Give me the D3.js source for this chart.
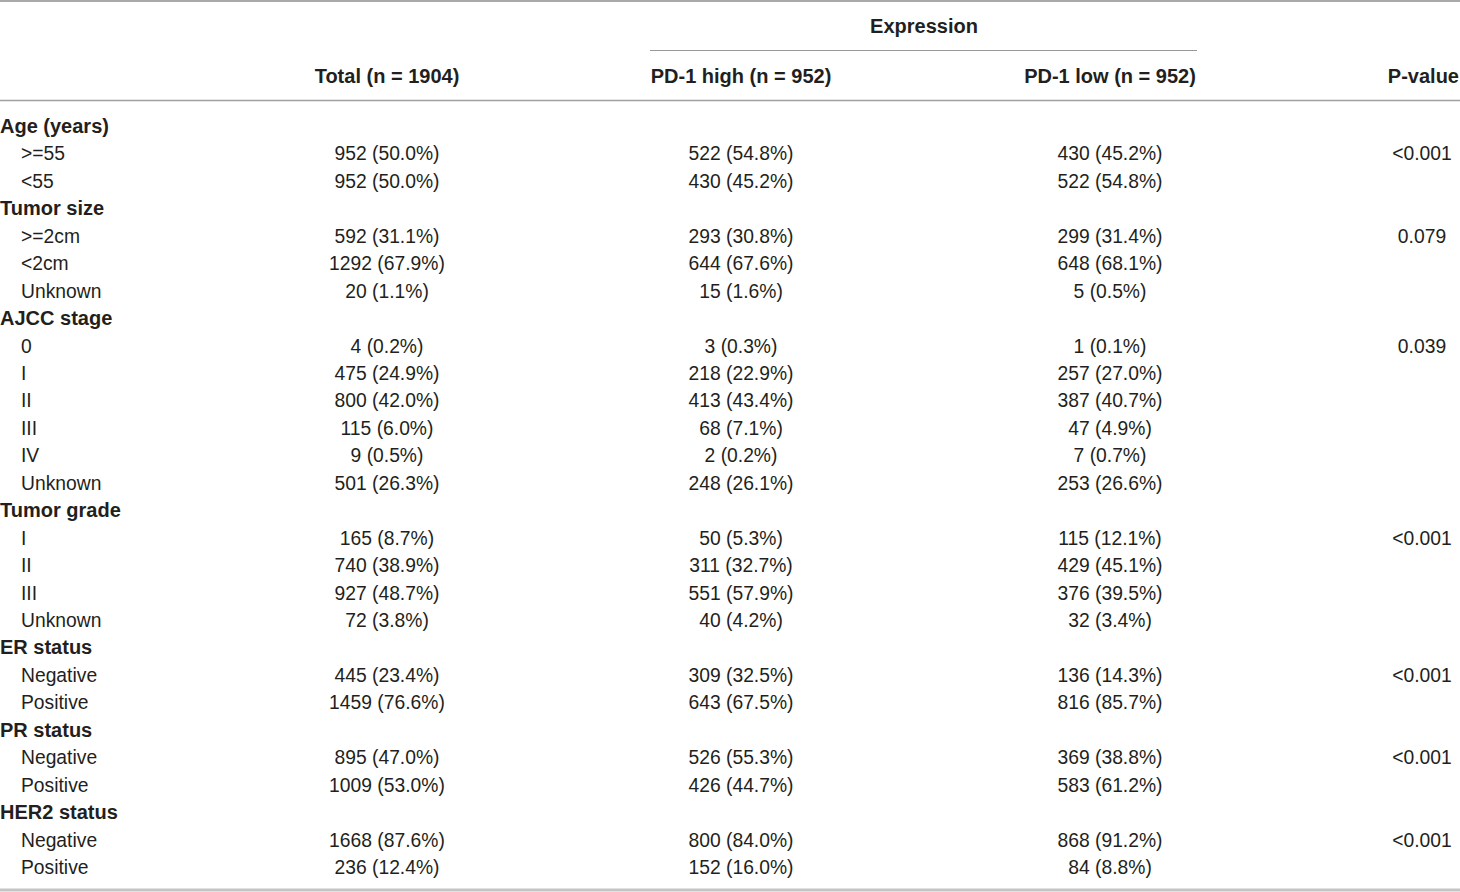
<!DOCTYPE html>
<html>
<head>
<meta charset="utf-8">
<script src="https://cdn.jsdelivr.net/npm/d3@7"></script>
<style>
  html, body { margin: 0; padding: 0; background: #fff; }
  svg { display: block; }
  text { font-family: "Liberation Sans", Arial, Helvetica, sans-serif; fill: #231f20; }
</style>
</head>
<body>
<svg id="chart" width="1460" height="892"></svg>
<script>
// ---- Data ----
const columnHeaders = ["Total (n = 1904)", "PD-1 high (n = 952)", "PD-1 low (n = 952)", "P-value"];
const spanHeader = "Expression";

const rowLabels = [
  "Age (years)", ">=55", "<55",
  "Tumor size", ">=2cm", "<2cm", "Unknown",
  "AJCC stage", "0", "I", "II", "III", "IV", "Unknown",
  "Tumor grade", "I", "II", "III", "Unknown",
  "ER status", "Negative", "Positive",
  "PR status", "Negative", "Positive",
  "HER2 status", "Negative", "Positive"
];
const isCategory = [
  1, 0, 0,
  1, 0, 0, 0,
  1, 0, 0, 0, 0, 0, 0,
  1, 0, 0, 0, 0,
  1, 0, 0,
  1, 0, 0,
  1, 0, 0
];
const totalVals = [
  "", "952 (50.0%)", "952 (50.0%)",
  "", "592 (31.1%)", "1292 (67.9%)", "20 (1.1%)",
  "", "4 (0.2%)", "475 (24.9%)", "800 (42.0%)", "115 (6.0%)", "9 (0.5%)", "501 (26.3%)",
  "", "165 (8.7%)", "740 (38.9%)", "927 (48.7%)", "72 (3.8%)",
  "", "445 (23.4%)", "1459 (76.6%)",
  "", "895 (47.0%)", "1009 (53.0%)",
  "", "1668 (87.6%)", "236 (12.4%)"
];
const highVals = [
  "", "522 (54.8%)", "430 (45.2%)",
  "", "293 (30.8%)", "644 (67.6%)", "15 (1.6%)",
  "", "3 (0.3%)", "218 (22.9%)", "413 (43.4%)", "68 (7.1%)", "2 (0.2%)", "248 (26.1%)",
  "", "50 (5.3%)", "311 (32.7%)", "551 (57.9%)", "40 (4.2%)",
  "", "309 (32.5%)", "643 (67.5%)",
  "", "526 (55.3%)", "426 (44.7%)",
  "", "800 (84.0%)", "152 (16.0%)"
];
const lowVals = [
  "", "430 (45.2%)", "522 (54.8%)",
  "", "299 (31.4%)", "648 (68.1%)", "5 (0.5%)",
  "", "1 (0.1%)", "257 (27.0%)", "387 (40.7%)", "47 (4.9%)", "7 (0.7%)", "253 (26.6%)",
  "", "115 (12.1%)", "429 (45.1%)", "376 (39.5%)", "32 (3.4%)",
  "", "136 (14.3%)", "816 (85.7%)",
  "", "369 (38.8%)", "583 (61.2%)",
  "", "868 (91.2%)", "84 (8.8%)"
];
const pVals = [
  "", "<0.001", "",
  "", "0.079", "", "",
  "", "0.039", "", "", "", "", "",
  "", "<0.001", "", "", "",
  "", "<0.001", "",
  "", "<0.001", "",
  "", "<0.001", ""
];

// ---- Layout ----
const svg = d3.select("#chart");
const W = 1460, H = 892;
const fontSize = 19.3;
const boldSize = 20;

const rowIdx = d3.range(rowLabels.length);
const y = d3.scaleLinear().domain([0, rowLabels.length - 1]).range([133, 874]);

const colCenters = [387, 741, 1110, 1422];

// rules
svg.append("line").attr("x1", 0).attr("x2", W).attr("y1", 1).attr("y2", 1)
  .attr("stroke", "#8c8c8c").attr("stroke-width", 1.5);
svg.append("line").attr("x1", 650).attr("x2", 1197).attr("y1", 50.5).attr("y2", 50.5)
  .attr("stroke", "#999").attr("stroke-width", 1.2);
svg.append("line").attr("x1", 0).attr("x2", W).attr("y1", 100.5).attr("y2", 100.5)
  .attr("stroke", "#a0a0a0").attr("stroke-width", 1.3);
svg.append("line").attr("x1", 0).attr("x2", W).attr("y1", 890).attr("y2", 890)
  .attr("stroke", "#c4c4c4").attr("stroke-width", 3);

// span header
svg.append("text").attr("x", 924).attr("y", 33)
  .attr("text-anchor", "middle").attr("font-weight", "bold").attr("font-size", boldSize)
  .text(spanHeader);

// column headers
svg.selectAll("text.colhead").data(columnHeaders).join("text")
  .attr("class", "colhead")
  .attr("x", (d, i) => i === 3 ? 1459 : colCenters[i])
  .attr("y", 83)
  .attr("text-anchor", (d, i) => i === 3 ? "end" : "middle")
  .attr("font-weight", "bold").attr("font-size", boldSize)
  .text(d => d);

// row labels
svg.selectAll("text.rowlabel").data(rowIdx).join("text")
  .attr("class", "rowlabel")
  .attr("x", i => isCategory[i] ? 0 : 21)
  .attr("y", i => y(i))
  .attr("font-weight", i => isCategory[i] ? "bold" : "normal")
  .attr("font-size", i => isCategory[i] ? boldSize : fontSize)
  .text(i => rowLabels[i]);

// value columns
const cols = [totalVals, highVals, lowVals, pVals];
cols.forEach((vals, c) => {
  svg.selectAll("text.col" + c).data(rowIdx.filter(i => vals[i] !== "")).join("text")
    .attr("class", "col" + c)
    .attr("x", colCenters[c])
    .attr("y", i => y(i))
    .attr("text-anchor", "middle")
    .attr("font-size", fontSize)
    .text(i => vals[i]);
});
</script>
</body>
</html>
